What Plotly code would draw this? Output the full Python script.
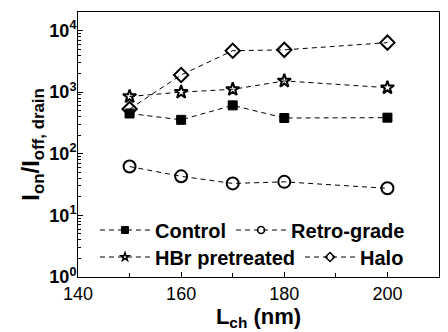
import plotly.graph_objects as go

lch = [150, 160, 170, 180, 200]
control = [450, 355, 610, 380, 385]
retro = [62, 43, 33, 35, 27.5]
hbr = [850, 1000, 1110, 1520, 1180]
halo = [530, 1900, 4700, 4850, 6350]

y_tickvals = [1, 10, 100, 1000, 10000]
y_ticktext = ["10<sup>0</sup>", "10<sup>1</sup>", "10<sup>2</sup>", "10<sup>3</sup>", "10<sup>4</sup>"]

# name, values, symbol, plot size, legend size, open-line width, legend id
series = [
    ("Control", control, "square", 9, 7, 1, "legend"),
    ("Retro-grade", retro, "circle-open", 12, 7, 1.5, "legend"),
    ("HBr pretreated", hbr, "star-open", 10, 6, 1.5, "legend2"),
    ("Halo", halo, "diamond-open", 11, 7, 1.5, "legend2"),
]

dash = "5px,4px"
fig = go.Figure()
for name, vals, sym, sz, lsz, lw, lg in series:
    fig.add_trace(go.Scatter(
        x=lch, y=vals, name=name, mode="lines+markers", showlegend=False,
        line=dict(color="black", width=1, dash=dash),
        marker=dict(symbol=sym, size=sz, color="black",
                    line=dict(color="black", width=2 if lw > 1 else 1)),
    ))
for name, vals, sym, sz, lsz, lw, lg in series:
    fig.add_trace(go.Scatter(
        x=[None], y=[None], name=name, mode="lines+markers", showlegend=True,
        legend=lg,
        line=dict(color="black", width=1, dash=dash),
        marker=dict(symbol=sym, size=lsz, color="black",
                    line=dict(color="black", width=lw)),
    ))

leg_common = dict(
    orientation="h", xanchor="left", yanchor="middle", itemwidth=50,
    font=dict(size=20, weight="bold"), bgcolor="rgba(0,0,0,0)",
    borderwidth=0, tracegroupgap=0,
)

fig.update_layout(
    width=448, height=332,
    margin=dict(l=78, r=9, t=12, b=55),
    paper_bgcolor="white", plot_bgcolor="white",
    font=dict(family="Liberation Sans, Arial", color="black", size=18),
    showlegend=True,
    legend=dict(x=0.047, y=(277 - 230) / 265, **leg_common),
    legend2=dict(x=0.047, y=(277 - 257) / 265, **leg_common),
    xaxis=dict(
        range=[140, 210], dtick=20, tick0=140,
        ticks="inside", ticklen=5, tickcolor="black",
        showline=True, linecolor="black", linewidth=1, mirror=True,
        showgrid=False, zeroline=False,
        tickfont=dict(size=18),
        minor=dict(dtick=10, ticks="inside", ticklen=4, tickcolor="black"),
        title=dict(text="L<sub>ch</sub> (nm)", font=dict(size=22, weight="bold"), standoff=2),
    ),
    yaxis=dict(
        type="log", range=[0, 4.3],
        tickmode="array", tickvals=y_tickvals, ticktext=y_ticktext,
        ticks="inside", ticklen=5, tickcolor="black",
        showline=True, linecolor="black", linewidth=1, mirror=True,
        showgrid=False, zeroline=False,
        tickfont=dict(size=18, weight="bold"),
        ticklabelstandoff=-3,
        minor=dict(dtick="D1", ticks="inside", ticklen=3, tickcolor="black"),
        title=dict(text="I<sub>on</sub>/I<sub>off, drain</sub>", font=dict(size=24, weight="bold"), standoff=2),
    ),
)

fig.write_html("out.html")
